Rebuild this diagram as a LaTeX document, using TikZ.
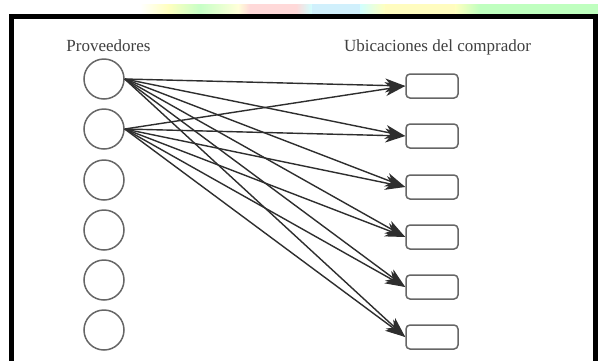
\documentclass[tikz,border=0pt]{standalone}
\usepackage{fontspec}
\setmainfont{Liberation Serif}
\usetikzlibrary{arrows.meta}
\definecolor{inkgray}{HTML}{2E2E2E}
\definecolor{headgray}{HTML}{404040}
\definecolor{shapegray}{HTML}{666666}
\begin{document}
\begin{tikzpicture}[x=1pt,y=-1pt,
  supplier/.style={circle,draw=shapegray,line width=1.5pt,minimum size=40pt,inner sep=0pt},
  buyer/.style={rectangle,rounded corners=4pt,draw=shapegray,line width=1.5pt,minimum width=52pt,minimum height=24pt,inner sep=0pt},
  heading/.style={font=\fontsize{17}{20}\selectfont,text=headgray,anchor=base,inner sep=0pt},
  flow/.style={draw=inkgray,line width=1.4pt,-{Stealth[length=20pt,width=14pt,inset=6pt]}}]
\useasboundingbox (0,0) rectangle (598,360);
\fill[white] (0,0) rectangle (598,360);
\begin{scope}
\clip (0,0) rectangle (598,360);
% pale colour band above the frame
\shade[left color=white,right color=yellow!25] (140,4) rectangle (168,14);
\shade[left color=yellow!25,right color=green!22] (168,4) rectangle (200,14);
\shade[left color=green!22,right color=yellow!15] (200,4) rectangle (238,14);
\shade[left color=yellow!15,right color=red!15] (238,4) rectangle (250,14);
\fill[red!15] (250,4) rectangle (296,14);
\shade[left color=red!15,right color=cyan!18] (296,4) rectangle (312,14);
\fill[cyan!18] (312,4) rectangle (360,14);
\shade[left color=cyan!18,right color=yellow!25] (360,4) rectangle (385,14);
\fill[yellow!25] (385,4) rectangle (455,14);
\shade[left color=yellow!25,right color=green!25] (455,4) rectangle (480,14);
\fill[green!25] (480,4) rectangle (598,14);
% frame
\draw[black,line width=5pt] (11.5,16.5) -- (595.5,16.5) -- (595.5,380);
\draw[black,line width=5pt] (11.5,14) -- (11.5,380);
\end{scope}
% headings
\node[heading] (hsup) at (108.5,51) {Proveedores};
\node[heading] (hbuy) at (437.5,51) {Ubicaciones del comprador};
% suppliers and buyer locations
\foreach \i/\yc/\yb in {1/79/86,2/129/136,3/180/187,4/230/237,5/280/287,6/330/337}{
  \node[supplier] (p\i) at (104,\yc) {};
  \node[buyer] (b\i) at (432,\yb) {};
}
% shipments from the first two suppliers
\foreach \s in {1,2}{
  \foreach \t in {1,...,6}{
    \draw[flow] (p\s.east) -- (b\t.west);
  }
}
\end{tikzpicture}
\end{document}
